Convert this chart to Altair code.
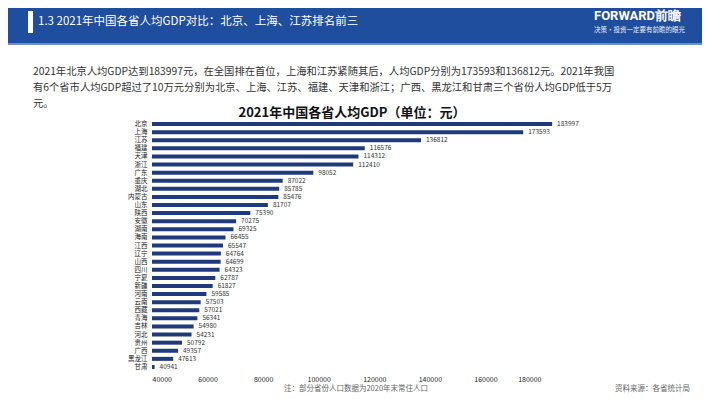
import altair as alt
import pandas as pd

provinces = ["北京", "上海", "江苏", "福建", "天津", "浙江", "广东", "重庆", "湖北", "内蒙古",
             "山东", "陕西", "安徽", "湖南", "海南", "江西", "辽宁", "山西", "四川", "宁夏",
             "新疆", "河南", "云南", "西藏", "青海", "吉林", "河北", "贵州", "广西", "黑龙江", "甘肃"]
gdp_per_capita = [183997, 173593, 136812, 116576, 114312, 112410, 98052, 87022, 85785, 85476,
                  81707, 75390, 70275, 69325, 66455, 65547, 64764, 64699, 64323, 62787,
                  61827, 59585, 57503, 57021, 56341, 54980, 54231, 50792, 49357, 47613, 40941]
x_ticks = [40000, 60000, 80000, 100000, 120000, 140000, 160000, 180000]

header_title = "1.3 2021年中国各省人均GDP对比：北京、上海、江苏排名前三"
logo_main = "FORWARD前瞻"
logo_sub = "决策·投资一定要有前瞻的眼光"
para_lines = [
    "2021年北京人均GDP达到183997元，在全国排在首位，上海和江苏紧随其后，人均GDP分别为173593和136812元。2021年我国",
    "有6个省市人均GDP超过了10万元分别为北京、上海、江苏、福建、天津和浙江；广西、黑龙江和甘肃三个省份人均GDP低于5万",
    "元。",
]
chart_title = "2021年中国各省人均GDP（单位：元）"
note_text = "注：部分省份人口数据为2020年末常住人口"
source_text = "资料来源：各省统计局"

FONT = "Noto Sans CJK SC"
df = pd.DataFrame({"province": provinces, "gdp": gdp_per_capita})

W, H = 389, 251

x_scale = alt.Scale(domain=[40000, 180000], nice=False, zero=False)
x_axis = alt.Axis(values=x_ticks, format="d", title=None, ticks=False, domain=False,
                  grid=False, labelFontSize=7, labelColor="#222", labelFont=FONT,
                  labelPadding=4)
y_axis = alt.Axis(title=None, ticks=False, domain=False, grid=False, labelFontSize=6.5,
                  labelColor="#222", labelFont=FONT, labelPadding=5)
y_scale = alt.Scale(paddingInner=0, paddingOuter=0)

bars = alt.Chart(df).mark_bar(color="#1f3a7a", size=4).encode(
    x=alt.X("gdp:Q", scale=x_scale, axis=x_axis), x2=alt.datum(40000),
    y=alt.Y("province:N", sort=provinces, scale=y_scale, axis=y_axis))
labels = alt.Chart(df).mark_text(align="left", baseline="middle", dx=5, fontSize=6.5,
                                 color="#333", font=FONT).encode(
    x=alt.X("gdp:Q", scale=x_scale, axis=x_axis),
    y=alt.Y("province:N", sort=provinces, scale=y_scale, axis=y_axis), text="gdp:Q")

def rect(x, x2, y, y2, color):
    return alt.Chart(pd.DataFrame({"a": [0]})).mark_rect(color=color).encode(
        x=alt.value(x), x2=alt.value(x2), y=alt.value(y), y2=alt.value(y2))

def txt(s, x, y, size, color, align="left", weight="normal", font=FONT):
    return alt.Chart(pd.DataFrame({"t": [s]})).mark_text(
        align=align, baseline="middle", fontSize=size, color=color, fontWeight=weight,
        font=font).encode(x=alt.value(x), y=alt.value(y), text="t:N")

header = rect(-144, 550, -112, -77, "#1f4e9e")
header_line = rect(-144, 550, -77, -75, "#6f8fc8")
white_bar = rect(-124, -119, -109, -87, "#ffffff")

layers = [header, header_line, white_bar,
          txt(header_title, -114, -98, 11.5, "#ffffff"),
          txt(logo_main, 442, -104, 13, "#ffffff", weight="bold", font="Roboto"),
          txt(logo_sub, 442, -90, 6.5, "#e8eefa"),
          ]
for i, line in enumerate(para_lines):
    layers.append(txt(line, -119, -48 + 16 * i, 10.3, "#333333"))
layers += [txt(chart_title, 200, -7, 13, "#111111", align="center", weight="bold"),
           txt(note_text, 204, 269, 7.5, "#666666", align="center"),
           txt(source_text, 538, 269, 7.5, "#666666", align="right"),
           bars, labels]

chart = alt.layer(*layers).properties(
    width=W, height=H,
    background="#ffffff",
    autosize=alt.AutoSizeParams(type="none"),
    padding={"left": 144, "top": 112, "right": 161, "bottom": 26},
).configure_view(strokeWidth=0, stroke="transparent").configure_axis(
    grid=False, domain=False, ticks=False
)

chart.save("out.html", embed_options={"renderer": "svg", "actions": False})
